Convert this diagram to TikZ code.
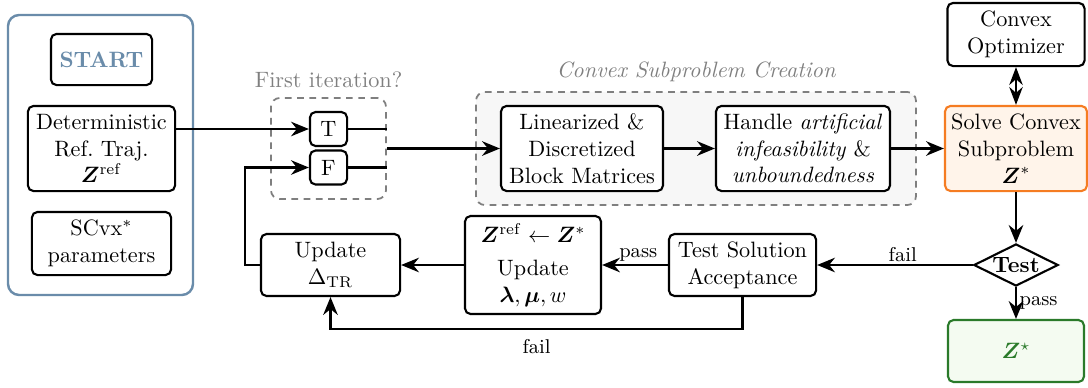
\documentclass[tikz,border=0pt]{standalone}
\usepackage{amsmath,amssymb,bm}
\usetikzlibrary{arrows.meta,shapes.geometric,positioning}
\definecolor{sblue}{HTML}{6A8CAA}
\definecolor{dorange}{HTML}{F57C22}
\definecolor{lorange}{HTML}{FFF4EA}
\definecolor{dgreen}{HTML}{2A7A2A}
\definecolor{lgreen}{HTML}{F4FBF1}
\definecolor{dgray}{HTML}{7F7F7F}
\definecolor{lgray}{HTML}{F7F7F7}
\tikzset{
  box/.style={draw=black, line width=0.95pt, rounded corners=2.5pt, align=center, inner sep=1pt, fill=white},
  grp/.style={draw=dgray, line width=0.8pt, rounded corners=4pt, dash pattern=on 3pt off 2.5pt},
  arr/.style={line width=1.25pt, -{Stealth[length=8pt,width=6.5pt]}},
  ln/.style={line width=1.25pt},
  lbl/.style={font=\small, inner sep=1pt},
}
\begin{document}
\begin{tikzpicture}[x=0.45pt,y=-0.45pt]
\useasboundingbox (0,0) rectangle (1088,387);
% left group
\node[draw=sblue, line width=1.1pt, rounded corners=5pt, minimum width=83.25pt, minimum height=126pt] (lgrp) at (100.5,155) {};
\node[box, minimum width=45.5pt, minimum height=23pt, text=sblue, font=\bfseries] (start) at (101.5,59.5) {START};
\node[box, minimum width=66.2pt, minimum height=38.3pt] (det) at (101.5,148.5) {Deterministic\\Ref.\ Traj.\\$\bm{Z}^{\mathrm{ref}}$};
\node[box, minimum width=62.6pt, minimum height=28.4pt] (scvx) at (101.5,243.5) {SCvx$^{*}$\\parameters};
% first iteration group
\node[grp, minimum width=51.8pt, minimum height=45.5pt] (fi) at (328.5,148.5) {};
\node[text=dgray, anchor=south, inner sep=0pt] (fil) at ([yshift=4pt]fi.north) {First iteration?};
\node[box, minimum width=16.7pt, minimum height=15.3pt] (T) at (328.5,129) {T};
\node[box, minimum width=16.7pt, minimum height=15.3pt] (F) at (328.5,167.5) {F};
% convex subproblem creation group
\node[grp, fill=lgray, minimum width=198pt, minimum height=50.9pt] (csc) at (696,148.5) {};
\node[text=dgray, anchor=south, inner sep=0pt, font=\itshape] (cscl) at ([yshift=4pt]csc.north) {Convex Subproblem Creation};
\node[box, minimum width=72.9pt, minimum height=38.3pt] (lin) at (582,148.5) {Linearized \&\\Discretized\\Block Matrices};
\node[box, minimum width=78.3pt, minimum height=38.3pt] (hand) at (803,148.5) {Handle \textit{artificial}\\\textit{infeasibility} \&\\\textit{unboundedness}};
\node[box, draw=dorange, fill=lorange, minimum width=63.9pt, minimum height=38.3pt] (solve) at (1016,148.5) {Solve Convex\\Subproblem\\$\bm{Z}^{*}$};
\node[box, minimum width=61.7pt, minimum height=28.4pt] (opt) at (1016,34.5) {Convex\\Optimizer};
\node[draw=black, line width=0.95pt, diamond, aspect=2, inner sep=0.5pt, minimum width=36pt, minimum height=18pt, font=\bfseries] (test) at (1016,265) {Test};
\node[box, draw=dgreen, fill=lgreen, text=dgreen, minimum width=61.2pt, minimum height=27.9pt] (zs) at (1016,351) {$\bm{Z}^{\star}$};
\node[box, minimum width=66.2pt, minimum height=27.9pt] (tsa) at (742.5,265) {Test Solution\\Acceptance};
\node[box, minimum width=61.2pt, minimum height=44.1pt] (upd) at (533,265) {$\bm{Z}^{\mathrm{ref}}\leftarrow\bm{Z}^{*}$\\[3pt]Update\\$\bm{\lambda},\bm{\mu},w$};
\node[box, minimum width=62.6pt, minimum height=27.9pt] (utr) at (330.5,265) {Update\\$\Delta_{\mathrm{TR}}$};
% connectors
\draw[arr] (det.east |- T.west) -- (T.west);
\draw[ln] (T.east) -- (fi.east |- T.east);
\draw[ln] (F.east) -- (fi.east |- F.east);
\draw[arr] (fi.east) -- (lin.west);
\draw[arr] (lin.east) -- (hand.west);
\draw[arr] (hand.east) -- (solve.west);
\draw[line width=1.25pt, {Stealth[length=8pt,width=6pt]}-{Stealth[length=8pt,width=6pt]}] (opt.south) -- (solve.north);
\draw[arr] (solve.south) -- (test.north);
\draw[arr] (test.south) -- node[lbl, right] {pass} (zs.north);
\draw[arr] (test.west) -- node[lbl, above, pos=0.45] {fail} (tsa.east);
\draw[arr] (tsa.west) -- node[lbl, above, pos=0.45] {pass} (upd.east);
\draw[arr] (upd.west) -- (utr.east);
\draw[arr] (utr.west) -- ++(-15,0) |- (F.west);
\draw[arr] (tsa.south) -- ++(0,32) -| node[lbl, below, pos=0.25, yshift=-3pt] {fail} (utr.south);
\end{tikzpicture}
\end{document}
